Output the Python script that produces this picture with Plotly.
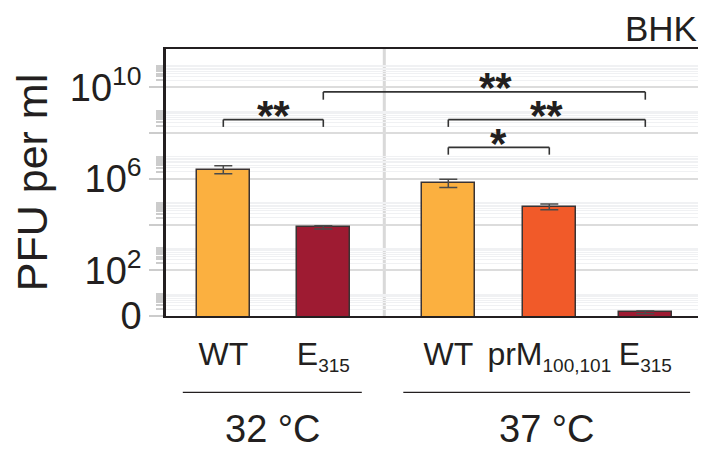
import plotly.graph_objects as go

# ---- data ----
SUB = '<sub><span style="font-size:19px">{}</span></sub>'
categories = ["WT", "E" + SUB.format("315"), "WT", "prM" + SUB.format("100,101"), "E" + SUB.format("315")]
groups = ["32 °C", "32 °C", "37 °C", "37 °C", "37 °C"]
pfu_mean = [2.5e6, 7.8e3, 6.3e5, 5.9e4, 1.45]
err_plus = [1.25e6, 1.1e3, 3.2e5, 2.0e4, 0.2]
err_minus = [0.83e6, 1.4e3, 2.1e5, 1.5e4, 0.2]
bar_colors = ["#FBB040", "#9E1B32", "#FBB040", "#F15A29", "#9E1B32"]

y_tickvals = [1, 1e2, 1e4, 1e6, 1e8, 1e10]
y_ticktext = ["0", "10<sup>2</sup>", "", "10<sup>6</sup>", "", "10<sup>10</sup>"]

# significance brackets: (left bar index, right bar index, label, level (log10), drop (log10), label x)
brackets = [
    (0, 1, "**", 8.59, 8.27, None),
    (1, 4, "**", 9.80, 9.46, 2.72),
    (2, 4, "**", 8.59, 8.27, None),
    (2, 3, "*", 7.375, 7.056, None),
]

# ---- layout helpers ----
x_pos = [0, 1, 2.25, 3.26, 4.22]
separator_x = 1.61
FONT = "Liberation Sans, Arial, Helvetica, sans-serif"
TXT = "#231f20"

minor_vals = [m * 10 ** e for e in range(0, 12, 2) for m in range(2, 10)]

fig = go.Figure()
fig.add_trace(go.Bar(
    x=x_pos, y=pfu_mean, width=0.533,
    marker=dict(color=bar_colors, line=dict(color="#3a3333", width=1.5)),
    error_y=dict(type="data", symmetric=False, array=err_plus, arrayminus=err_minus,
                 color="#4a4a4a", thickness=1.5, width=9),
    showlegend=False, hoverinfo="skip",
))

shapes = []
annotations = []
for (i, j, lab, lev, drop, lx) in brackets:
    xa, xb = x_pos[i], x_pos[j]
    ylev, ydrop = 10 ** lev, 10 ** drop
    for (x0, y0, x1, y1) in [(xa, ydrop, xa, ylev), (xa, ylev, xb, ylev), (xb, ylev, xb, ydrop)]:
        shapes.append(dict(type="line", xref="x", yref="y", x0=x0, x1=x1, y0=y0, y1=y1,
                           line=dict(color="#333333", width=1.6), layer="above"))
    annotations.append(dict(x=lx if lx is not None else (xa + xb) / 2, y=lev, xref="x", yref="y",
                            text=lab, showarrow=False, yanchor="middle", yshift=4,
                            font=dict(family=FONT, size=42, color=TXT, weight="bold")))

# vertical separator
shapes.append(dict(type="line", xref="x", yref="paper", x0=separator_x, x1=separator_x, y0=0, y1=1,
                   line=dict(color="#d9d9d9", width=3), layer="between"))

# group lines and labels
group_names = ["32 °C", "37 °C"]
group_spans = [(-0.405, 1.385), (1.80, 4.668)]
for name, (g0, g1) in zip(group_names, group_spans):
    shapes.append(dict(type="line", xref="x", yref="paper", x0=g0, x1=g1, y0=-0.2857, y1=-0.2857,
                       line=dict(color=TXT, width=1.2)))
    annotations.append(dict(x=(g0 + g1) / 2, y=-0.4216, xref="x", yref="paper", text=name,
                            showarrow=False, yanchor="middle",
                            font=dict(family=FONT, size=38, color=TXT)))

annotations.append(dict(x=1.0, y=1.0, xref="paper", yref="paper", text="BHK", showarrow=False,
                        xanchor="right", yanchor="bottom", xshift=-5, yshift=0, borderpad=0,
                        font=dict(family=FONT, size=35, color=TXT)))

fig.update_layout(
    width=698, height=453,
    margin=dict(l=158, r=3, t=41, b=145),
    plot_bgcolor="white", paper_bgcolor="white",
    font=dict(family=FONT, color=TXT),
    shapes=shapes, annotations=annotations,
    bargap=0,
)
fig.update_xaxes(
    automargin=False,
    range=[-0.573, 4.797], tickvals=x_pos, ticktext=categories,
    tickfont=dict(family=FONT, size=32, color=TXT), ticklabelstandoff=9,
    showgrid=False, zeroline=False, ticks="",
    showline=True, linecolor="#231f20", linewidth=2, mirror=True,
)
fig.update_yaxes(
    automargin=False,
    type="log", range=[0, 11.677],
    tickvals=y_tickvals, ticktext=y_ticktext,
    tickfont=dict(family=FONT, size=38, color=TXT),
    ticks="outside", ticklen=14, tickwidth=2, tickcolor="#cccccc",
    showgrid=True, gridcolor="#dcdcdc", gridwidth=2,
    minor=dict(tickvals=minor_vals, ticks="outside", ticklen=7, tickwidth=1.5, tickcolor="#cccccc",
               showgrid=True, gridcolor="#f0f1f3", gridwidth=1),
    showline=True, linecolor="#231f20", linewidth=2.5, mirror=True,
    title=dict(text="PFU per ml", font=dict(family=FONT, size=43, color=TXT), standoff=16),
)

fig.write_html("out.html")
